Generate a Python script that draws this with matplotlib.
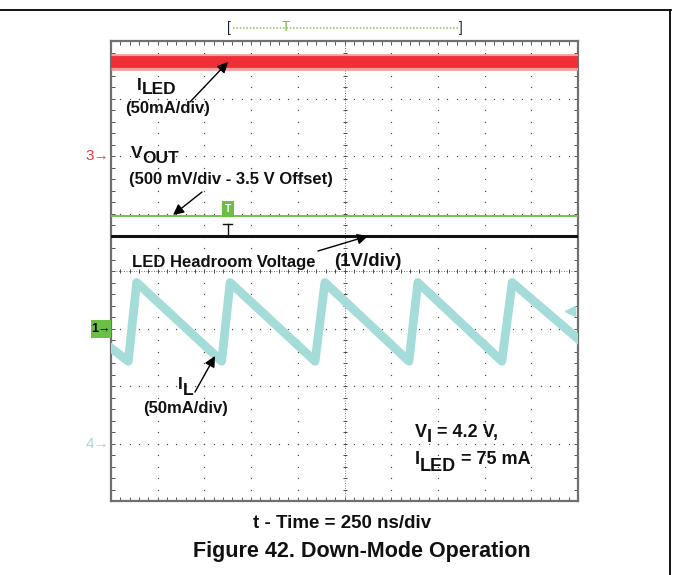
import numpy as np
import matplotlib
matplotlib.use('Agg')
import matplotlib.pyplot as plt
from matplotlib.lines import Line2D
from matplotlib.patches import Rectangle

plt.rcParams['font.family'] = ['Liberation Sans', 'DejaVu Sans']

# ---- data (scope divisions: time 0..10 div, amplitude -4..4 div) ----
iled_t = [0, 10]
iled_v = [3.63, 3.63]
vout_t = [0, 10]
vout_v = [0.96, 0.96]
head_t = [0, 10]
head_v = [0.61, 0.61]
il_t = [0, 0.37, 0.55, 2.37, 2.55, 4.37, 4.58, 6.38, 6.57, 8.37, 8.59, 10.0]
il_v = [-1.34, -1.57, -0.2, -1.57, -0.2, -1.57, -0.2, -1.57, -0.2, -1.57, -0.2, -1.18]
trigger_t = 2.5
trigger_level = 1.08
ch3_level = 2
ch1_level = -1
ch4_level = -3
x_label = "t - Time = 250 ns/div"
caption = "Figure 42. Down-Mode Operation"

W, H = 673, 575
fig = plt.figure(figsize=(W / 100, H / 100), dpi=100)
ax = fig.add_axes([111 / W, 1 - 501 / H, 467 / W, 460 / H])
ax.set_xlim(0, 10)
ax.set_ylim(-4, 4)


def P(x, y):
    return (x / W, 1 - y / H)


# ---- graticule ----
gc = '#4a4a4a'
for gy in range(-3, 4):
    if gy == 0:
        continue
    xs = np.arange(0, 10.001, 0.2)
    ax.plot(xs, np.full_like(xs, gy), ls='none', marker='s', ms=0.85, mew=0, color=gc, zorder=1)
for gx in range(1, 10):
    if gx == 5:
        continue
    ys = np.arange(-4, 4.001, 0.2)
    ax.plot(np.full_like(ys, gx), ys, ls='none', marker='s', ms=0.85, mew=0, color=gc, zorder=1)
# centre crosshair
ax.axhline(0, ls=(0, (1, 2)), lw=0.6, color=gc, zorder=1)
ax.axvline(5, ls=(0, (1, 2)), lw=0.6, color=gc, zorder=1)
cx = np.arange(0, 10.001, 0.2)
ax.plot(cx, np.zeros_like(cx), ls='none', marker='|', ms=3.5, mew=0.7, color=gc, zorder=1)
cy = np.arange(-4, 4.001, 0.2)
ax.plot(np.full_like(cy, 5), cy, ls='none', marker='_', ms=3.5, mew=0.7, color=gc, zorder=1)

ax.set_xticks(np.arange(0, 10.001, 1))
ax.set_xticks(np.arange(0, 10.001, 0.2), minor=True)
ax.set_yticks(np.arange(-4, 4.001, 1))
ax.set_yticks(np.arange(-4, 4.001, 0.2), minor=True)
ax.tick_params(which='both', direction='in', length=3, width=0.7, color='#555555',
               top=True, right=True, labelbottom=False, labelleft=False)
for s in ax.spines.values():
    s.set_color('#707070')
    s.set_linewidth(1.6)

# ---- traces ----
ax.plot(iled_t, iled_v, color='#f49a9a', lw=12, solid_capstyle='butt', zorder=3)
ax.plot(iled_t, iled_v, color='#ee2f35', lw=8.5, solid_capstyle='butt', zorder=3)
ax.plot(vout_t, vout_v, color='#77c14f', lw=1.4, zorder=3)
ax.plot(head_t, head_v, color='#111111', lw=2.2, zorder=3)
ax.plot(il_t, il_v, color='#a3dcd9', lw=6.3, solid_joinstyle='round', zorder=3)

# trigger markers
ax.text(trigger_t, trigger_level, 'T', color='white', fontsize=7.5, fontweight='bold',
        ha='center', va='center', zorder=5,
        bbox=dict(facecolor='#6cbf45', edgecolor='none', boxstyle='square,pad=0.25'))
ax.plot([trigger_t, trigger_t], [head_v[0], 0.82], color='#111111', lw=1, zorder=4)
ax.plot([trigger_t - 0.1, trigger_t + 0.1], [0.82, 0.82], color='#111111', lw=1, zorder=4)
ax.plot(9.83, -0.7, marker='<', ms=7, color='#a3dcd9', clip_on=False, zorder=4)

# ---- outer frame ----
fig.add_artist(Line2D([0, 671 / W], [1 - 10 / H] * 2, color='black', lw=1.3))
fig.add_artist(Line2D([670 / W] * 2, [1 - 10 / H, 0], color='black', lw=1.3))

# top record bracket
fig.text(*P(229, 28), '[', fontsize=10, color='#1a1a3a', ha='center', va='center')
fig.text(*P(461, 28), ']', fontsize=10, color='#1a1a3a', ha='center', va='center')
fig.add_artist(Line2D([233 / W, 458 / W], [1 - 28 / H] * 2, ls=(0, (1, 1)), color='#8fd36a', lw=1.2))
fig.text(*P(286, 27), 'T', fontsize=10, color='#77c14f', ha='center', va='center')

# channel markers
def ylev(v):
    return 271 - v * 57.5

fig.text(*P(109, ylev(ch3_level)), '3→', fontsize=11, color='#ee3b3b', ha='right', va='center')
fig.text(*P(109, ylev(ch4_level)), '4→', fontsize=11, color='#9ed9d6', ha='right', va='center')
fig.add_artist(Rectangle(P(91, ylev(ch1_level) + 9), 20 / W, 18 / H,
                         transform=fig.transFigure, facecolor='#6cbf45', edgecolor='none'))
fig.text(*P(101, ylev(ch1_level)), '1→', fontsize=9, color='black', ha='center', va='center',
         fontweight='bold')

# ---- annotations ----
renderer = fig.canvas.get_renderer()


def sub_text(x, y, main, sub, rest='', size=12, dy=5):
    kw = dict(fontsize=size, fontweight='bold', va='baseline', ha='left', color='#111111')
    t1 = fig.text(*P(x, y), main, **kw)
    bb = t1.get_window_extent(renderer)
    t2 = fig.text(bb.x1 / W, 1 - (y + dy) / H, sub, **kw)
    if rest:
        bb2 = t2.get_window_extent(renderer)
        fig.text(bb2.x1 / W, 1 - y / H, rest, **kw)


def plain(x, y, s, size=12, ha='left'):
    fig.text(*P(x, y), s, fontsize=size, fontweight='bold', va='baseline', ha=ha, color='#111111')


def arrow(tail, head):
    fig.add_artist(matplotlib.patches.FancyArrowPatch(
        P(*tail), P(*head), transform=fig.transFigure, arrowstyle='-|>',
        mutation_scale=16, lw=1, color='black', shrinkA=0, shrinkB=0))


sub_text(137, 90, 'I', 'LED', size=12.5, dy=4)
plain(125, 113, '(50mA/div)')
arrow((190, 102), (228, 62))

sub_text(131, 158, 'V', 'OUT', size=12.5, dy=5)
plain(129, 184, '(500 mV/div - 3.5 V Offset)')
arrow((202, 192), (173, 215))

plain(132, 267, 'LED Headroom Voltage')
plain(334, 266, '(1V/div)', size=13.5)
arrow((318, 251), (368, 236))

sub_text(178, 389, 'I', 'L', size=12.5, dy=6)
plain(143, 413, '(50mA/div)')
arrow((195, 392), (215, 356))

sub_text(415, 437, 'V', 'I', ' = 4.2 V,', size=13, dy=5)
sub_text(415, 464, 'I', 'LED', ' = 75 mA', size=13, dy=7)

plain(342.5, 528, x_label, size=13.5, ha='center')
plain(362, 557, caption, size=15.5, ha='center')

fig.savefig('out.png', dpi=100)
